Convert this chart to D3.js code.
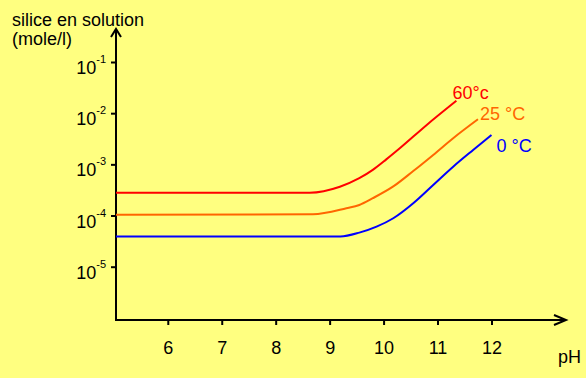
<!DOCTYPE html>
<html>
<head>
<meta charset="utf-8">
<script src="https://cdn.jsdelivr.net/npm/d3@7"></script>
<style>
  body{margin:0;background:#ffff80;}
  svg{display:block;}
  text{font-family:"Liberation Sans",Arial,sans-serif;}
</style>
</head>
<body>
<div id="chart"></div>
<script>
// silice dissoute (mole/l) en fonction du pH
var phTicks=[6,7,8,9,10,11,12];
var concTicks=[1e-1,1e-2,1e-3,1e-4,1e-5];
var expLabels=["-1","-2","-3","-4","-5"];

var seriesNames=["60°c","25 °C","0 °C"];
var ph60=[5.04,8.63,9.19,9.55,9.8,10.05,10.3,10.8,11.35];
var conc60=[2.8e-4,2.8e-4,3.66e-4,5.36e-4,7.8e-4,1.25e-3,2.06e-3,5.9e-3,1.75e-2];
var ph25=[5.04,8.69,9.31,9.55,9.8,10.18,10.55,10.92,11.29,11.75];
var conc25=[1.03e-4,1.06e-4,1.39e-4,1.61e-4,2.18e-4,3.7e-4,7.4e-4,1.53e-3,3.24e-3,7.6e-3];
var ph0=[5.04,9.2,9.55,9.87,10.18,10.55,10.92,11.29,11.66,12.0];
var conc0=[3.87e-5,3.9e-5,4.63e-5,6.07e-5,8.85e-5,1.74e-4,3.96e-4,9.0e-4,1.91e-3,3.75e-3];

var width=586,height=378;
var svg=d3.select("#chart").append("svg")
  .attr("width",width).attr("height",height);
svg.append("rect").attr("width",width).attr("height",height).attr("fill","#ffff80");

var x=d3.scaleLinear().domain([5.04,13.4]).range([116,567]);
var y=d3.scaleLog().domain([1e-1,1e-5]).range([62,266.7]);
var axisY=320; // position of the pH axis

// axes (ticks via d3, lines+arrows drawn separately)
var gx=svg.append("g").attr("transform","translate(0,"+axisY+")")
  .call(d3.axisBottom(x).tickValues(phTicks).tickSize(5).tickFormat(d3.format("d")));
gx.select(".domain").remove();
gx.selectAll(".tick line").attr("stroke","#000").attr("stroke-width",2);
gx.selectAll(".tick text").attr("font-size",18).attr("fill","#000")
  .attr("y",null).attr("dy",null).attr("transform","translate(0,34)")
  .style("font-family",'"Liberation Sans",Arial,sans-serif');

var gy=svg.append("g").attr("transform","translate(116,0)")
  .call(d3.axisLeft(y).tickValues(concTicks).tickSize(5).tickFormat(""));
gy.select(".domain").remove();
gy.selectAll(".tick line").attr("stroke","#000").attr("stroke-width",2);
gy.selectAll(".tick").each(function(d,i){
  var t=d3.select(this).append("text")
    .attr("text-anchor","end").attr("fill","#000")
    .attr("x",-10).attr("y",0)
    .style("font-family",'"Liberation Sans",Arial,sans-serif');
  t.append("tspan").attr("font-size",18).attr("dy",11.5).text("10");
  t.append("tspan").attr("font-size",11).attr("dy",-11).text(expLabels[i]);
});

// axis lines with arrows
svg.append("path")
  .attr("d","M116,"+axisY+"V29M111,37L116,29L121,37")
  .attr("fill","none").attr("stroke","#000").attr("stroke-width",2);
svg.append("path")
  .attr("d","M115,"+axisY+"H566M554,315L566,320L554,325")
  .attr("fill","none").attr("stroke","#000").attr("stroke-width",2);

// axis titles
svg.append("text").attr("x",12).attr("y",26).attr("font-size",18).text("silice en solution");
svg.append("text").attr("x",12).attr("y",45).attr("font-size",18).text("(mole/l)");
svg.append("text").attr("x",558).attr("y",363).attr("font-size",18).text("pH");

// curves
var series=[
  {name:seriesNames[0],ph:ph60,c:conc60,color:"#ff0000",dx:-4,dy:-2},
  {name:seriesNames[1],ph:ph25,c:conc25,color:"#ff6600",dx:2,dy:1},
  {name:seriesNames[2],ph:ph0,c:conc0,color:"#0000ff",dx:5,dy:17}
];
var line=d3.line()
  .x(function(d){return x(d[0]);})
  .y(function(d){return y(d[1]);})
  .curve(d3.curveMonotoneX);

series.forEach(function(s){
  var pts=s.ph.map(function(p,i){return [p,s.c[i]];});
  svg.append("path").datum(pts)
    .attr("d",line).attr("fill","none")
    .attr("stroke",s.color).attr("stroke-width",2);
  var last=pts[pts.length-1];
  svg.append("text")
    .attr("x",x(last[0])+s.dx).attr("y",y(last[1])+s.dy)
    .attr("font-size",18).attr("fill",s.color).text(s.name);
});
</script>
</body>
</html>
